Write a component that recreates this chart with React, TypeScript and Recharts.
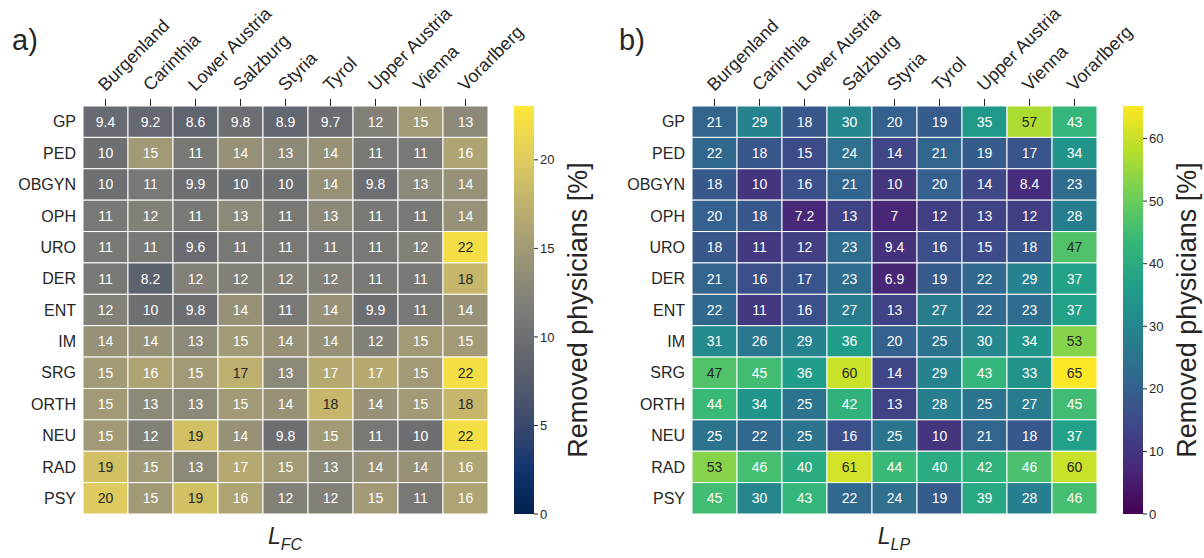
import React from 'react';
import { ScatterChart, Scatter, XAxis, YAxis, BarChart, Bar } from 'recharts';

const REGIONS = ['Burgenland', 'Carinthia', 'Lower Austria', 'Salzburg', 'Styria', 'Tyrol', 'Upper Austria', 'Vienna', 'Vorarlberg'];
const SPECIALTIES = ['GP', 'PED', 'OBGYN', 'OPH', 'URO', 'DER', 'ENT', 'IM', 'SRG', 'ORTH', 'NEU', 'RAD', 'PSY'];

// removed physicians [%]; one row per specialty, one column per region
const LFC_VALUES = [
  [9.4, 9.2, 8.6, 9.8, 8.9, 9.7, 12, 15, 13],
  [10, 15, 11, 14, 13, 14, 11, 11, 16],
  [10, 11, 9.9, 10, 10, 14, 9.8, 13, 14],
  [11, 12, 11, 13, 11, 13, 11, 11, 14],
  [11, 11, 9.6, 11, 11, 11, 11, 12, 22],
  [11, 8.2, 12, 12, 12, 12, 11, 11, 18],
  [12, 10, 9.8, 14, 11, 14, 9.9, 11, 14],
  [14, 14, 13, 15, 14, 14, 12, 15, 15],
  [15, 16, 15, 17.4, 13, 16.6, 16.6, 15, 22],
  [15, 13, 13, 15, 14, 18, 14, 15, 18],
  [15, 12, 19, 14, 9.8, 15, 11, 10, 22],
  [19, 15, 13, 16.6, 15, 13, 14, 14, 16],
  [20, 15, 19, 16, 12, 12, 15, 11, 16],
];

const LLP_VALUES = [
  [21, 29, 18, 30, 20, 19, 35, 57, 43],
  [22, 18, 15, 24, 14, 21, 19, 17, 34],
  [18, 10, 16, 21, 10, 20, 14, 8.4, 23],
  [20, 18, 7.2, 13, 7, 12, 13, 12, 28],
  [18, 11, 12, 23, 9.4, 16, 15, 18, 47],
  [21, 16, 17, 23, 6.9, 19, 22, 29, 37],
  [22, 11, 16, 27, 13, 27, 22, 23, 37],
  [31, 26, 29, 36, 20, 25, 30, 34, 53],
  [47, 45, 36, 60, 14, 29, 43, 33, 65],
  [44, 34, 25, 42, 13, 28, 25, 27, 45],
  [25, 22, 25, 16, 25, 10, 21, 18, 37],
  [53, 45.6, 40, 61, 44, 40, 42, 46.4, 60],
  [45, 30, 43, 22, 24, 19, 39, 28, 45.6],
];

const LFC_MAX = 23.04;
const LLP_MAX = 65.2;
const LFC_TICKS = [0, 5, 10, 15, 20];
const LLP_TICKS = [0, 10, 20, 30, 40, 50, 60];

const CIVIDIS = ['#00224e', '#123570', '#3b496c', '#575d6d', '#707173', '#8a8779', '#a69d75', '#c4b56c', '#e4cf5b', '#fee838'];
const VIRIDIS = ['#440154', '#482878', '#3e4989', '#31688e', '#26828e', '#1f9e89', '#35b779', '#6ece58', '#b5de2b', '#fde725'];

const FONT = '"Liberation Sans", Arial, Helvetica, sans-serif';
const DARK = '#262626';
const CHART_W = 560;
const CHART_H = 558;
const AXIS_TOP = 106;
const BOTTOM = 44;
const Y_W = 83;
const PLOT_W = 405;
const PLOT_H = CHART_H - AXIS_TOP - BOTTOM;

const hexToRgb = (h: string) => [1, 3, 5].map((i) => parseInt(h.slice(i, i + 2), 16));

function colorAt(cmap: string[], t: number) {
  const u = Math.max(0, Math.min(1, t)) * (cmap.length - 1);
  const i = Math.min(cmap.length - 2, Math.floor(u));
  const f = u - i;
  const a = hexToRgb(cmap[i]);
  const b = hexToRgb(cmap[i + 1]);
  return a.map((c, k) => Math.round(c + (b[k] - c) * f));
}

function luminance(rgb: number[]) {
  const lin = rgb.map((c) => {
    const s = c / 255;
    return s <= 0.03928 ? s / 12.92 : Math.pow((s + 0.055) / 1.055, 2.4);
  });
  return 0.2126 * lin[0] + 0.7152 * lin[1] + 0.0722 * lin[2];
}

const fmt = (v: number) => String(Number(v.toPrecision(2)));

function RegionTick(props: any) {
  const { x, y, payload } = props;
  return (
    <text
      transform={`translate(${x},${y - 5}) rotate(-45)`}
      textAnchor="start"
      fontSize={18}
      fill={DARK}
      fontFamily={FONT}
    >
      {REGIONS[payload.value]}
    </text>
  );
}

function HeatPanel({ values, cmap, vmax }: { values: number[][]; cmap: string[]; vmax: number }) {
  const cells: { col: number; row: number; v: number }[] = [];
  values.forEach((row, r) => row.forEach((v, c) => cells.push({ col: c, row: r, v })));
  const cellW = PLOT_W / REGIONS.length;
  const cellH = PLOT_H / SPECIALTIES.length;

  const renderCell = (props: any) => {
    const { cx, cy, payload } = props;
    const rgb = colorAt(cmap, payload.v / vmax);
    const txt = luminance(rgb) > 0.405 ? DARK : '#ffffff';
    return (
      <g>
        <rect
          x={cx - cellW / 2}
          y={cy - cellH / 2}
          width={cellW}
          height={cellH}
          fill={`rgb(${rgb.join(',')})`}
          stroke="#ffffff"
          strokeWidth={1}
        />
        <text x={cx} y={cy} textAnchor="middle" dominantBaseline="central" fontSize={14} fill={txt} fontFamily={FONT}>
          {fmt(payload.v)}
        </text>
      </g>
    );
  };

  return (
    <ScatterChart width={CHART_W} height={CHART_H} margin={{ top: 0, right: CHART_W - Y_W - PLOT_W, bottom: BOTTOM, left: 0 }}>
      <XAxis
        type="number"
        dataKey="col"
        orientation="top"
        domain={[-0.5, REGIONS.length - 0.5]}
        allowDataOverflow
        ticks={REGIONS.map((_, i) => i)}
        interval={0}
        height={AXIS_TOP}
        axisLine={false}
        tickSize={7}
        tickLine={{ stroke: DARK, strokeWidth: 1 }}
        tick={<RegionTick />}
      />
      <YAxis
        type="number"
        dataKey="row"
        domain={[-0.5, SPECIALTIES.length - 0.5]}
        allowDataOverflow
        reversed
        ticks={SPECIALTIES.map((_, i) => i)}
        interval={0}
        width={Y_W}
        axisLine={false}
        tickLine={false}
        tickSize={0}
        tickMargin={7}
        tickFormatter={(i: number) => SPECIALTIES[i]}
        tick={{ fontSize: 16, fill: DARK, fontFamily: FONT }}
      />
      <Scatter data={cells} shape={renderCell} isAnimationActive={false} />
    </ScatterChart>
  );
}

function ColorBar({ cmap, vmax, ticks, id }: { cmap: string[]; vmax: number; ticks: number[]; id: string }) {
  const renderLabel = (props: any) => {
    const vb = props.viewBox || {};
    const cx = vb.x + 44;
    const cy = vb.y + vb.height / 2;
    return (
      <text
        transform={`translate(${cx},${cy}) rotate(-90)`}
        textAnchor="middle"
        dominantBaseline="central"
        fontSize={27}
        fill={DARK}
        fontFamily={FONT}
      >
        Removed physicians [%]
      </text>
    );
  };
  return (
    <BarChart width={80} height={CHART_H} data={[{ v: vmax }]} margin={{ top: AXIS_TOP, right: 0, bottom: BOTTOM, left: 0 }} barCategoryGap={0}>
      <defs>
        <linearGradient id={id} x1="0" y1="1" x2="0" y2="0">
          {cmap.map((c, i) => (
            <stop key={i} offset={i / (cmap.length - 1)} stopColor={c} />
          ))}
        </linearGradient>
      </defs>
      <XAxis hide />
      <YAxis
        orientation="right"
        type="number"
        domain={[0, vmax]}
        allowDataOverflow
        ticks={ticks}
        interval={0}
        width={60}
        axisLine={false}
        tickSize={4}
        tickMargin={2}
        tickLine={{ stroke: DARK, strokeWidth: 1 }}
        tick={{ fontSize: 13, fill: DARK, fontFamily: FONT, textAnchor: 'start' }}
        label={{ content: renderLabel }}
      />
      <Bar dataKey="v" fill={`url(#${id})`} isAnimationActive={false} />
    </BarChart>
  );
}

const abs = (left: number, top: number): React.CSSProperties => ({ position: 'absolute', left, top });

export default function App() {
  return (
    <div style={{ position: 'absolute', left: 0, top: 0, width: 1204, height: 558, background: '#ffffff', fontFamily: FONT, color: DARK }}>
      <div style={abs(0, 0)}>
        <HeatPanel values={LFC_VALUES} cmap={CIVIDIS} vmax={LFC_MAX} />
      </div>
      <div style={abs(514, 0)}>
        <ColorBar cmap={CIVIDIS} vmax={LFC_MAX} ticks={LFC_TICKS} id="cbCividis" />
      </div>

      <div style={abs(609, 0)}>
        <HeatPanel values={LLP_VALUES} cmap={VIRIDIS} vmax={LLP_MAX} />
      </div>
      <div style={abs(1123, 0)}>
        <ColorBar cmap={VIRIDIS} vmax={LLP_MAX} ticks={LLP_TICKS} id="cbViridis" />
      </div>

      <div style={{ ...abs(12, 24), fontSize: 29 }}>a)</div>
      <div style={{ ...abs(619, 24), fontSize: 29 }}>b)</div>

      <div style={{ position: 'absolute', left: 185, top: 523, width: 200, textAlign: 'center', fontSize: 23 }}>
        <i>L</i>
        <sub style={{ fontSize: 16 }}>
          <i>FC</i>
        </sub>
      </div>
      <div style={{ position: 'absolute', left: 794, top: 523, width: 200, textAlign: 'center', fontSize: 23 }}>
        <i>L</i>
        <sub style={{ fontSize: 16 }}>
          <i>LP</i>
        </sub>
      </div>
    </div>
  );
}
